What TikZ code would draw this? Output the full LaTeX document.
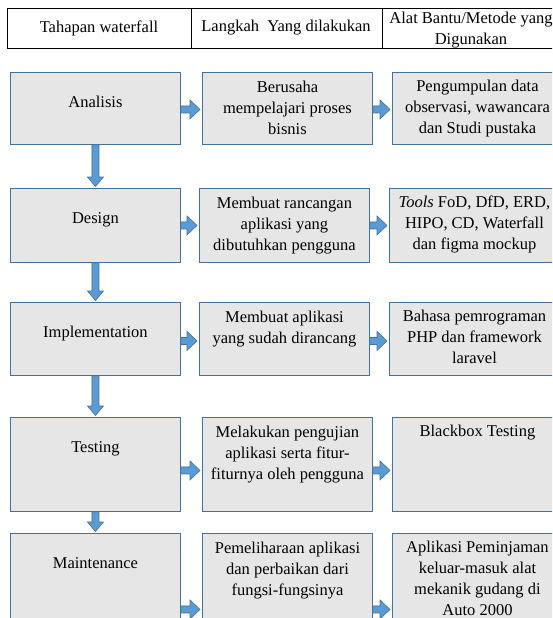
\documentclass[tikz,border=0pt]{standalone}
\usepackage{fontspec}
\setmainfont{Liberation Serif}
\usetikzlibrary{calc}
\definecolor{kotakisi}{RGB}{231,230,230}
\definecolor{kotakgaris}{RGB}{65,113,156}
\definecolor{panahisi}{RGB}{91,155,213}
% panah blok ke kanan / ke bawah antar kotak
\newcommand{\panahkanan}[3][0]{%
  \draw[blok] let \p1=($(#2.east)+(0,#1)$), \p2=(#3.west) in
    (\x1,\y1+3.5pt) -- (\x2-12pt,\y1+3.5pt) -- (\x2-12pt,\y1+9.5pt) -- (\x2-2pt,\y1)
    -- (\x2-12pt,\y1-9.5pt) -- (\x2-12pt,\y1-3.5pt) -- (\x1,\y1-3.5pt) -- cycle;}
\newcommand{\panahbawah}[2]{%
  \draw[blok] let \p1=(#1.south), \p2=(#2.north) in
    (\x1-3.5pt,\y1) -- (\x1-3.5pt,\y2+11pt) -- (\x1-8pt,\y2+11pt) -- (\x1,\y2+1.5pt)
    -- (\x1+8pt,\y2+11pt) -- (\x1+3.5pt,\y2+11pt) -- (\x1+3.5pt,\y1) -- cycle;}
\begin{document}
\begin{tikzpicture}[x=1pt,y=-1pt,
    kotak/.style={draw=kotakgaris,fill=kotakisi,line width=.9pt,anchor=north west,
      minimum width=170pt,inner sep=0pt},
    isi/.style={anchor=north,align=center,inner sep=0pt,
      font=\fontsize{16.5}{21}\selectfont},
    blok/.style={draw=kotakgaris,fill=panahisi,line width=.6pt}]
  \useasboundingbox (0,0) rectangle (552,618);
  \clip (0,0) rectangle (552,618);
  % tabel judul
  \draw[line width=.8pt] (7,8) rectangle (600,48);
  \draw[line width=.8pt] (191,8) -- (191,48) (382,8) -- (382,48);
  \node[isi,anchor=center] (h1) at (99,28) {Tahapan waterfall};
  \node[isi,anchor=center] (h2) at (286,28) {Langkah\ \ Yang dilakukan};
  \node[isi,anchor=center] (h3) at (471,30) {Alat Bantu/Metode yang\\Digunakan};
  % kotak tiap tahapan
  \foreach \i/\y/\h/\g/\a/\b/\c in {
    1/72/72/0/{Analisis}/{Berusaha\\mempelajari\ proses\\bisnis}/{Pengumpulan data\\observasi, wawancara\\dan Studi pustaka},
    2/188/74/3/{Design}/{Membuat rancangan\\aplikasi yang\\dibutuhkan pengguna}/{\textit{Tools} FoD, DfD, ERD,\\HIPO, CD, Waterfall\\dan figma mockup},
    3/302/73/3/{Implementation}/{Membuat aplikasi\\yang sudah dirancang}/{Bahasa pemrograman\\PHP dan framework\\laravel},
    4/417/94/0/{Testing}/{Melakukan pengujian\\aplikasi serta fitur-\\fiturnya oleh pengguna}/{Blackbox Testing},
    5/533/150/0/{Maintenance}/{Pemeliharaan aplikasi\\dan perbaikan dari\\fungsi-fungsinya}/{Aplikasi Peminjaman\\keluar-masuk alat\\mekanik gudang di\\Auto 2000}}
  {
    \node[kotak,minimum height=\h] (a\i) at (10,\y) {};
    \node[kotak,minimum height=\h] (b\i) at (202-\g,\y) {};
    \node[kotak,minimum height=\h] (c\i) at (392-\g,\y) {};
    \node[isi] (ta\i) at ($(a\i.north)+(0,24)$) {\a};
    \node[isi] (tb\i) at ($(b\i.north)+(0,8.5)$) {\b};
    \node[isi] (tc\i) at ($(c\i.north)+(0,8)$) {\c};
  }
  % panah
  \foreach \i/\o in {1/1,2/0,3/2,4/6,5/1}
  {
    \panahkanan[\o]{a\i}{b\i}
    \panahkanan[\o]{b\i}{c\i}
  }
  \foreach \i [count=\j from 2] in {1,...,4}
    \panahbawah{a\i}{a\j};
\end{tikzpicture}
\end{document}
